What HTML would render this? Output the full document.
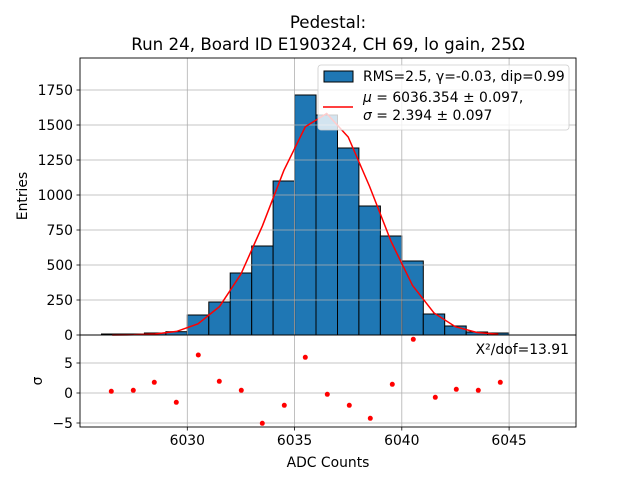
<!DOCTYPE html>
<html><head><meta charset="utf-8"><style>
html,body{margin:0;padding:0;background:#fff}
svg{display:block;font-family:"DejaVu Sans","Liberation Sans",sans-serif}
</style></head><body>
<svg width="640" height="480" viewBox="0 0 640 480" xmlns="http://www.w3.org/2000/svg">
<rect width="640" height="480" fill="#fff"/>
<text x="328" y="28" font-size="16.7" text-anchor="middle">Pedestal:</text>
<text x="328" y="50" font-size="16.7" text-anchor="middle">Run 24, Board ID E190324, CH 69, lo gain, 25Ω</text>
<!-- bars -->
<g fill="#1f77b4" stroke="#000" stroke-width="1">
<rect x="101.5" y="334" width="21.5" height="1"/>
<rect x="123" y="334" width="21.4" height="1"/>
<rect x="144.4" y="333" width="21.5" height="2"/>
<rect x="165.9" y="331.7" width="21.4" height="3.3"/>
<rect x="187.3" y="315" width="21.5" height="20"/>
<rect x="208.8" y="302" width="21.4" height="33"/>
<rect x="230.2" y="273" width="21.5" height="62"/>
<rect x="251.7" y="246" width="21.4" height="89"/>
<rect x="273.1" y="181" width="21.5" height="154"/>
<rect x="294.6" y="95" width="21.4" height="240"/>
<rect x="316" y="115" width="21.5" height="220"/>
<rect x="337.5" y="148" width="21.4" height="187"/>
<rect x="358.9" y="206" width="21.5" height="129"/>
<rect x="380.4" y="236" width="21.4" height="99"/>
<rect x="401.8" y="261" width="21.5" height="74"/>
<rect x="423.3" y="314" width="21.4" height="21"/>
<rect x="444.7" y="326" width="21.5" height="9"/>
<rect x="466.2" y="332" width="21.4" height="3"/>
<rect x="487.6" y="333" width="21.5" height="2"/>
</g>
<!-- grid (on top) -->
<g stroke="#b0b0b0" stroke-width="0.8">
<line x1="80" x2="576" y1="300" y2="300"/><line x1="80" x2="576" y1="265" y2="265"/>
<line x1="80" x2="576" y1="230" y2="230"/><line x1="80" x2="576" y1="195" y2="195"/>
<line x1="80" x2="576" y1="160" y2="160"/><line x1="80" x2="576" y1="125" y2="125"/>
<line x1="80" x2="576" y1="90" y2="90"/>
<line x1="187.3" x2="187.3" y1="58" y2="427"/><line x1="294.6" x2="294.6" y1="58" y2="427"/>
<line x1="401.8" x2="401.8" y1="58" y2="427"/><line x1="509.1" x2="509.1" y1="58" y2="427"/>
<line x1="80" x2="576" y1="363" y2="363"/><line x1="80" x2="576" y1="393" y2="393"/>
<line x1="80" x2="576" y1="423" y2="423"/>
</g>
<polyline fill="none" stroke="#ff0000" stroke-width="1.5" points="112.2,334.95 133.7,334.8 155.1,334 176.6,331.4 198,323.8 219.5,306.6 240.9,274.2 262.4,225.9 283.8,170.6 305.3,126.8 326.7,113.5 348.2,137 369.6,186.5 391.1,241.5 412.5,285.4 434,313 455.4,326.7 476.9,332.5 498.3,334.3"/>
<!-- residuals -->
<g fill="#ff0000">
<circle cx="111.3" cy="391.3" r="2.5"/><circle cx="133.3" cy="390.3" r="2.5"/><circle cx="154.3" cy="382.3" r="2.5"/>
<circle cx="176.3" cy="402.3" r="2.5"/><circle cx="198.3" cy="355" r="2.5"/><circle cx="219.3" cy="381.3" r="2.5"/>
<circle cx="241.3" cy="390.3" r="2.5"/><circle cx="262.3" cy="423.3" r="2.5"/><circle cx="284.3" cy="405.3" r="2.5"/>
<circle cx="305.3" cy="357.3" r="2.5"/><circle cx="327.3" cy="394.3" r="2.5"/><circle cx="349.3" cy="405.3" r="2.5"/>
<circle cx="370.3" cy="418.3" r="2.5"/><circle cx="392.3" cy="384.3" r="2.5"/><circle cx="413.3" cy="339.3" r="2.5"/>
<circle cx="435.3" cy="397.3" r="2.5"/><circle cx="456.3" cy="389.3" r="2.5"/><circle cx="478.3" cy="390.3" r="2.5"/>
<circle cx="500.3" cy="382.3" r="2.5"/>
</g>
<!-- axes frames -->
<rect x="80" y="58" width="496" height="277" fill="none" stroke="#000" stroke-width="0.9"/>
<rect x="80" y="335" width="496" height="92" fill="none" stroke="#000" stroke-width="0.9"/>
<!-- legend -->
<rect x="318" y="65" width="251" height="65" rx="3" fill="#fff" fill-opacity="0.8" stroke="#cccccc" stroke-width="0.8"/>
<rect x="324" y="71" width="29" height="11" fill="#1f77b4" stroke="#000" stroke-width="1"/>
<text x="363" y="81" font-size="13.9">RMS=2.5, γ=-0.03, dip=0.99</text>
<line x1="323" x2="353" y1="107" y2="107" stroke="#ff0000" stroke-width="1.5"/>
<text x="363" y="102" font-size="13.9"><tspan font-style="italic">μ</tspan> = 6036.354 ± 0.097,</text>
<text x="363" y="120" font-size="13.9"><tspan font-style="italic">σ</tspan> = 2.394 ± 0.097</text>
<text x="569" y="354" font-size="13.9" text-anchor="end">X²/dof=13.91</text>
<!-- ticks -->
<g stroke="#000" stroke-width="0.8">
<line x1="76.5" x2="80" y1="335" y2="335"/><line x1="76.5" x2="80" y1="300" y2="300"/>
<line x1="76.5" x2="80" y1="265" y2="265"/><line x1="76.5" x2="80" y1="230" y2="230"/>
<line x1="76.5" x2="80" y1="195" y2="195"/><line x1="76.5" x2="80" y1="160" y2="160"/>
<line x1="76.5" x2="80" y1="125" y2="125"/><line x1="76.5" x2="80" y1="90" y2="90"/>
<line x1="76.5" x2="80" y1="363" y2="363"/><line x1="76.5" x2="80" y1="393" y2="393"/>
<line x1="76.5" x2="80" y1="423" y2="423"/>
<line x1="187.3" x2="187.3" y1="427" y2="430.5"/><line x1="294.6" x2="294.6" y1="427" y2="430.5"/>
<line x1="401.8" x2="401.8" y1="427" y2="430.5"/><line x1="509.1" x2="509.1" y1="427" y2="430.5"/>
</g>
<g font-size="13.9" text-anchor="end">
<text x="73" y="340">0</text><text x="73" y="305">250</text><text x="73" y="270">500</text>
<text x="73" y="235">750</text><text x="73" y="200">1000</text><text x="73" y="165">1250</text>
<text x="73" y="130">1500</text><text x="73" y="95">1750</text>
<text x="73" y="368">5</text><text x="73" y="398">0</text><text x="73" y="428">−5</text>
</g>
<g font-size="13.9" text-anchor="middle">
<text x="187.3" y="445">6030</text><text x="294.6" y="445">6035</text>
<text x="401.8" y="445">6040</text><text x="509.1" y="445">6045</text>
<text x="328" y="467">ADC Counts</text>
</g>
<text transform="translate(27,196) rotate(-90)" font-size="13.9" text-anchor="middle">Entries</text>
<text transform="translate(42,381) rotate(-90)" font-size="13.9" text-anchor="middle">σ</text>
</svg>
</body></html>
